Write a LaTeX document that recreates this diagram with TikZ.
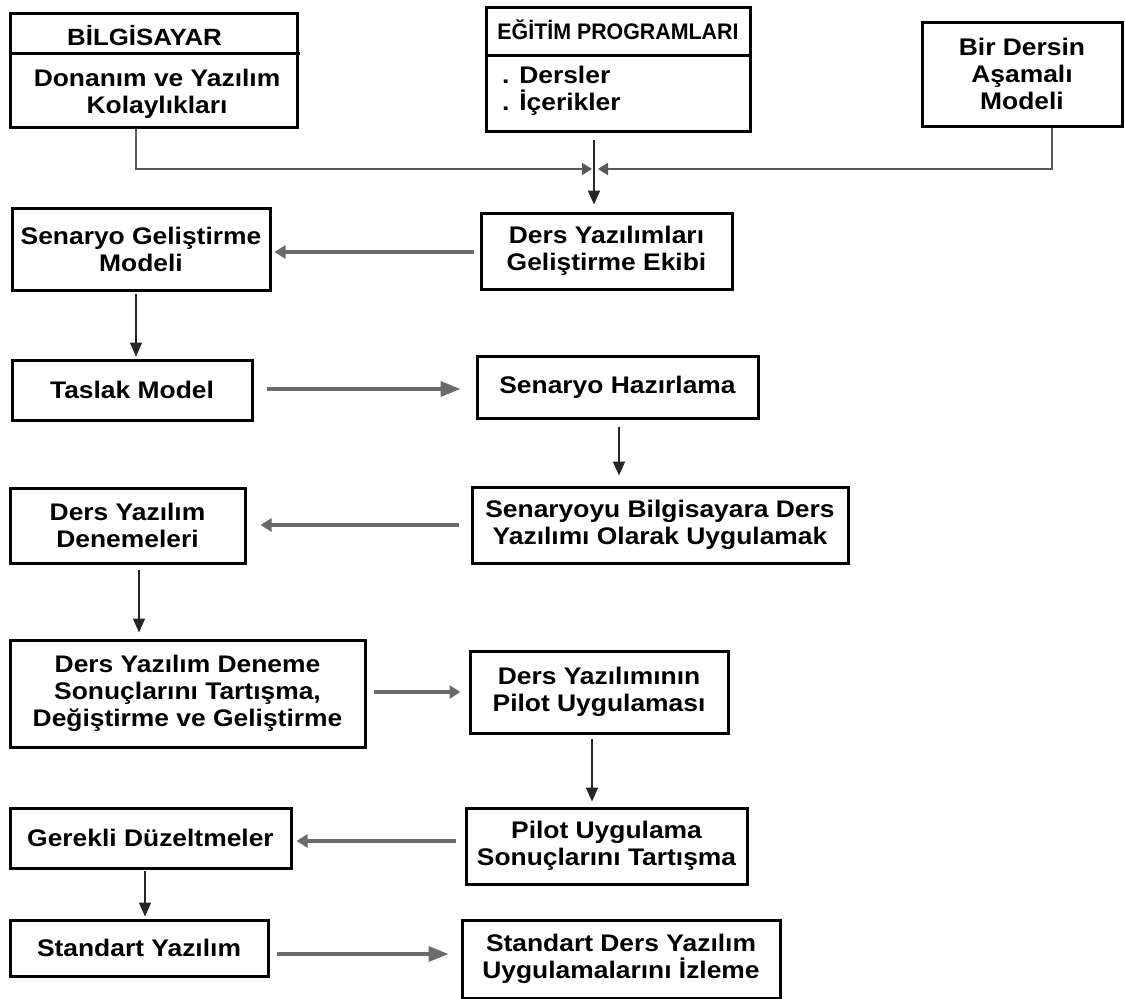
\documentclass[tikz,border=0pt]{standalone}
\usepackage{fontspec}
\setmainfont{Liberation Sans}[FakeStretch=1.1]
\newfontfamily\titlefont{Liberation Sans}[FakeStretch=0.95]
\usetikzlibrary{arrows.meta,calc}

\begin{document}
\begin{tikzpicture}[x=1pt,y=-1pt,
  txtfont/.style={font=\bfseries\fontsize{24}{27}\selectfont},
  box/.style={draw=black, line width=3pt, inner sep=0pt, align=center, txtfont},
  txt/.style={inner sep=0pt, txtfont},
  feed/.style={draw=black!65, line width=2pt},
  flowh/.style={draw=black!58, line width=3.5pt},
  flowv/.style={draw=black!85, line width=1.6pt, -{Triangle[length=14pt,width=12pt]}},
  headsmall/.style={-{Triangle[length=11pt,width=13pt]}},
  headbig/.style={-{Triangle[length=20pt,width=15pt]}},
  headjoin/.style={-{Triangle[length=10pt,width=12pt]}}
]
\useasboundingbox (0,0) rectangle (1125,999);

% --- inputs at the top ---
\node[box, minimum width=287pt, minimum height=114pt] (bil) at (153.5,70) {};
\draw[line width=3pt] (bil.west |- 0,53) -- (300,53);
\node[txt, anchor=base, font=\bfseries\fontsize{23.5}{27}\selectfont] (biltitle) at (144.5,45) {BİLGİSAYAR};
\node[txt, align=center] (biltext) at (157,94) {Donanım ve Yazılım\\Kolaylıkları};

\node[box, minimum width=264pt, minimum height=124pt] (egit) at (618,69) {};
\draw[line width=3pt] (egit.west |- 0,55) -- (egit.east |- 0,55);
\node[txt, anchor=base, font=\titlefont\bfseries\fontsize{22.5}{26}\selectfont] (egittitle) at (618,39) {EĞİTİM PROGRAMLARI};
\node[txt, anchor=base west] (ders) at (502,83) {. Dersler};
\node[txt, anchor=base west] (icerik) at (502,110) {. İçerikler};

\node[box, minimum width=200pt, minimum height=104pt] (bir) at (1022,74) {Bir Dersin\\Aşamalı\\Modeli};

% --- flow boxes ---
\node[box, minimum width=251pt, minimum height=76pt] (ekip) at (606.5,251) {Ders Yazılımları\\Geliştirme Ekibi};
\node[box, minimum width=258pt, minimum height=82pt] (senmod) at (141,249) {Senaryo Geliştirme\\Modeli};
\node[box, minimum width=240pt, minimum height=60pt] (taslak) at (132,390) {Taslak Model};
\node[box, minimum width=281pt, minimum height=62pt] (senhaz) at (617.5,387) {Senaryo Hazırlama};
\node[box, minimum width=376pt, minimum height=76pt] (uygula) at (660,525) {Senaryoyu Bilgisayara Ders\\Yazılımı Olarak Uygulamak};
\node[box, minimum width=235pt, minimum height=75pt] (deneme) at (127.5,525.5) {Ders Yazılım\\Denemeleri};
\node[box, minimum width=355pt, minimum height=107pt] (tartis) at (187.5,693.5) {Ders Yazılım Deneme\\Sonuçlarını Tartışma,\\Değiştirme ve Geliştirme};
\node[box, minimum width=258pt, minimum height=82pt] (pilot) at (599,692) {Ders Yazılımının\\Pilot Uygulaması};
\node[box, minimum width=281pt, minimum height=76pt] (pilotsonuc) at (606.5,846) {Pilot Uygulama\\Sonuçlarını Tartışma};
\node[box, minimum width=281pt, minimum height=60pt] (duzelt) at (150.5,838) {Gerekli Düzeltmeler};
\node[box, minimum width=258pt, minimum height=56pt] (standart) at (139,948) {Standart Yazılım};
\node[box, minimum width=318pt, minimum height=78pt] (izleme) at (621,959) {Standart Ders Yazılım\\Uygulamalarını İzleme};

% --- joining of the three inputs ---
\coordinate (jl) at (592,169);
\coordinate (jr) at (598,169);
\coordinate (jtop) at (594,140);
\draw[feed, headjoin] (bil.south -| 136,0) |- (jl);
\draw[feed, headjoin] (bir.south -| 1052,0) |- (jr);
\draw[flowv] (jtop) -- ($(ekip.north -| jtop)+(0,-7)$);

% --- flow connectors ---
\draw[flowh, headsmall, shorten <=6pt, shorten >=3pt] (ekip.west |- 0,252) -- (senmod.east |- 0,252);
\draw[flowv, shorten <=2pt, shorten >=2pt] (senmod.south -| 136,0) -- (taslak.north -| 136,0);
\draw[flowh, headbig, shorten <=13pt, shorten >=15pt] (taslak.east |- 0,389) -- (senhaz.west |- 0,389);
\draw[flowv, shorten <=7pt, shorten >=10pt] (senhaz.south -| 619,0) -- (uygula.north -| 619,0);
\draw[flowh, headsmall, shorten <=12pt, shorten >=14pt] (uygula.west |- 0,525) -- (deneme.east |- 0,525);
\draw[flowv, shorten <=5pt, shorten >=6pt] (deneme.south -| 139,0) -- (tartis.north -| 139,0);
\draw[flowh, headsmall, shorten <=7pt, shorten >=8pt] (tartis.east |- 0,692) -- (pilot.west |- 0,692);
\draw[flowv, shorten <=4pt, shorten >=5pt] (pilot.south -| 592,0) -- (pilotsonuc.north -| 592,0);
\draw[flowh, headsmall, shorten <=9pt, shorten >=4pt] (pilotsonuc.west |- 0,841) -- (duzelt.east |- 0,841);
\draw[flowv, shorten <=1pt, shorten >=2pt] (duzelt.south -| 145,0) -- (standart.north -| 145,0);
\draw[flowh, headbig, shorten <=7pt, shorten >=12pt] (standart.east |- 0,954) -- (izleme.west |- 0,954);
\end{tikzpicture}
\end{document}
